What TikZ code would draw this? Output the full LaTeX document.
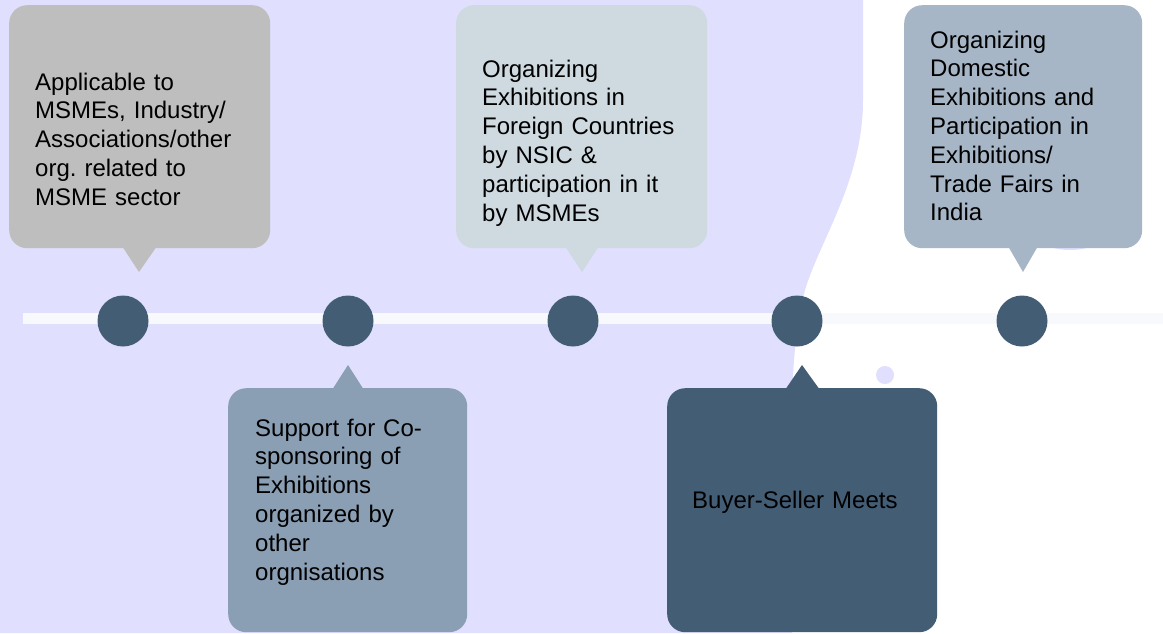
\documentclass[tikz,border=0pt]{standalone}
\usepackage{fontspec}
\setmainfont{Liberation Sans}
\frenchspacing
\definecolor{lav}{HTML}{E0DFFE}
\definecolor{barc}{HTML}{F8F9FC}
\definecolor{cA}{HTML}{BEBEBE}
\definecolor{cB}{HTML}{8A9FB4}
\definecolor{cC}{HTML}{CED9E0}
\definecolor{cD}{HTML}{435D75}
\definecolor{cE}{HTML}{A6B6C6}
\begin{document}
\begin{tikzpicture}[x=1pt,y=-1pt,
  callout/.style={rectangle, rounded corners=18pt, inner sep=0pt, anchor=north west},
  dot/.style={circle, fill=cD, minimum size=51pt, inner sep=0pt},
  txt/.style={inner sep=0pt, anchor=base west, text width=300pt, align=left,
    font=\fontsize{24pt}{28.8pt}\selectfont\frenchspacing, text=black}]
\useasboundingbox (0,0) rectangle (1163,633);
\fill[white] (0,0) rectangle (1163,633);
% background blob
\fill[lav] (0,0) -- (863,0) -- (863,100)
  .. controls (863,180) and (820,240) .. (805,290)
  .. controls (795,330) and (792,370) .. (792,420)
  -- (792,633) -- (0,633) -- cycle;
\fill[lav] (1070,182) circle (68pt);
\fill[lav] (885,375) circle (9pt);
% timeline bar
\fill[barc] (23,313) rectangle (1163,324);
% callout boxes
\node[callout, fill=cA, minimum width=261pt, minimum height=243pt] (box1) at (9,5) {};
\fill[cA] (122,246) -- (139,272) -- (157,246) -- cycle;
\node[callout, fill=cC, minimum width=251pt, minimum height=243pt] (box3) at (456,5) {};
\fill[cC] (565,246) -- (582,272) -- (599,246) -- cycle;
\node[callout, fill=cE, minimum width=238pt, minimum height=243pt] (box5) at (904,5) {};
\fill[cE] (1008,246) -- (1023,272) -- (1038,246) -- cycle;
\node[callout, fill=cB, minimum width=239pt, minimum height=244pt] (box2) at (228,388) {};
\fill[cB] (332,390) -- (348,365) -- (364,390) -- cycle;
\node[callout, fill=cD, minimum width=270pt, minimum height=244pt] (box4) at (667,388) {};
\fill[cD] (785,390) -- (802,365) -- (820,390) -- cycle;
% dots
\node[dot] (d1) at (123,321) {};
\node[dot] (d2) at (348,321) {};
\node[dot] (d3) at (573,321) {};
\node[dot] (d4) at (797,321) {};
\node[dot] (d5) at (1022,321) {};
% texts
\node[txt] (t1) at (35,90) {Applicable to\\MSMEs, Industry/\\Associations/other\\org. related to\\MSME sector};
\node[txt] (t3) at (482,77) {Organizing\\Exhibitions in\\Foreign Countries\\by NSIC \&\\participation in it\\by MSMEs};
\node[txt] (t5) at (930,48) {Organizing\\Domestic\\Exhibitions and\\Participation in\\Exhibitions/\\Trade Fairs in\\India};
\node[txt] (t2) at (255,436) {Support for Co-\\sponsoring of\\Exhibitions\\organized by\\other\\orgnisations};
\node[txt] (t4) at (692,508) {Buyer-Seller Meets};
\end{tikzpicture}
\end{document}
